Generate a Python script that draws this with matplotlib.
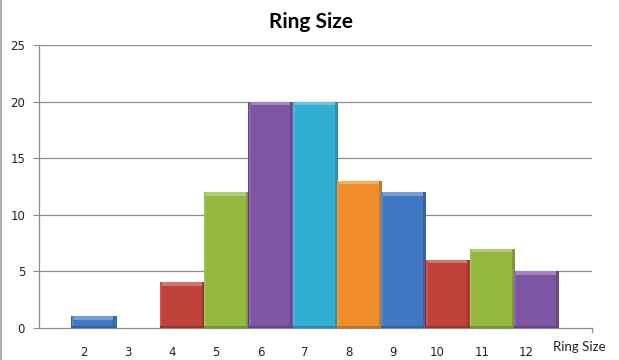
import matplotlib
matplotlib.use("Agg")
import matplotlib.pyplot as plt
from matplotlib.colors import to_rgb
import numpy as np

# ---- data ----
categories = ["2", "3", "4", "5", "6", "7", "8", "9", "10", "11", "12"]
values = [1, 0, 4, 12, 20, 20, 13, 12, 6, 7, 5]
bar_colors = ["#3F78C2", "#C0403A", "#C0403A", "#92B83F", "#7E55A2", "#33AED3",
              "#F08C2A", "#3F78C2", "#C0403A", "#92B83F", "#7E55A2"]
title = "Ring Size"
axis_label = "Ring Size"
yticks = [0, 5, 10, 15, 20, 25]

W, H = 619, 360
fig = plt.figure(figsize=(W / 100, H / 100), dpi=100)
fig.patch.set_facecolor("white")

left, right, top, bottom = 39, 592, 45, 327.7
ax = fig.add_axes([left / W, 1 - bottom / H, (right - left) / W, (bottom - top) / H])

px_per_cat = 44.25
c0 = 93.5
x = np.arange(len(categories))
ax.set_xlim((left - c0) / px_per_cat, (right - c0) / px_per_cat)
ax.set_ylim(0, 25)

ypx = (bottom - top) / 25.0   # px per unit
xpx = px_per_cat              # px per category

def shade(c, f):
    r, g, b = to_rgb(c)
    if f >= 0:
        return (r + (1 - r) * f, g + (1 - g) * f, b + (1 - b) * f)
    return (r * (1 + f), g * (1 + f), b * (1 + f))

# gridlines
for yv in yticks[1:]:
    ax.axhline(yv, color="#8c8c8c", lw=0.9, zorder=0)

# bars with bevel
for xi, v, col in zip(x, values, bar_colors):
    if v <= 0:
        continue
    ax.bar(xi, v, width=1.0, color=col, edgecolor=shade(col, -0.3), lw=0.6, zorder=2)
    band = 3.5 / ypx
    side = 2.0 / xpx
    # top highlight
    ax.bar(xi, band, bottom=v - band, width=1.0 - 2 * side, color=shade(col, 0.28),
           lw=0, zorder=3)
    # right dark side
    ax.bar(xi + 0.5 - side / 2 - 0.005, v, width=side, color=shade(col, -0.15), lw=0, zorder=3)
    # left light side
    ax.bar(xi - 0.5 + side / 2 + 0.005, v, width=side, color=shade(col, 0.1), lw=0, zorder=3)
    # bottom dark band
    ax.bar(xi, 2.0 / ypx, width=1.0, color=shade(col, -0.2), lw=0, zorder=3)

# spines
for s in ["top", "right"]:
    ax.spines[s].set_visible(False)
ax.spines["left"].set_color("#8c8c8c")
ax.spines["bottom"].set_color("#8c8c8c")
ax.spines["left"].set_linewidth(0.9)
ax.spines["bottom"].set_linewidth(0.9)

ax.set_yticks(yticks)
ax.set_yticklabels([str(t) for t in yticks], fontsize=8.5, family="DejaVu Sans", color="#222222")
ax.tick_params(axis="y", length=4, color="#8c8c8c", pad=6)

label_off = -10.0 / px_per_cat
ax.set_xticks([xi + label_off for xi in x])
ax.set_xticklabels(categories, fontsize=8.5, family="DejaVu Sans", color="#222222")
ax.tick_params(axis="x", length=0, pad=13)

# axis name as last category label
ax.text((579 - c0) / px_per_cat, -19.3 / ypx, axis_label, ha="center", va="center",
        fontsize=9.5, family="Lato", color="#222222")
# right-end tick
ax.plot([(right - c0) / px_per_cat] * 2, [0, -4 / ypx], color="#8c8c8c", lw=0.9,
        clip_on=False)

fig.text(311 / W, 1 - 22 / H, title, ha="center", va="center", fontsize=15,
         fontweight="bold", family="Lato", color="black")

# chart border on left
fig.add_artist(plt.Line2D([0.5 / W, 0.5 / W], [0, 1], color="#a0a0a0", lw=1.2,
                          transform=fig.transFigure))

fig.savefig("out.png", dpi=100)
